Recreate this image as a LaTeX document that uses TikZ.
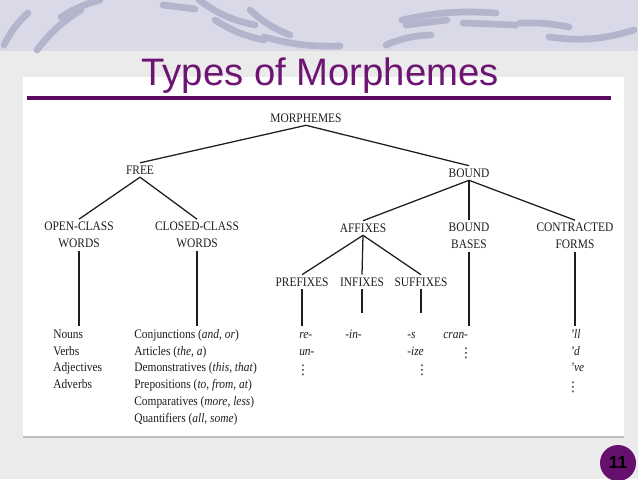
\documentclass[tikz,border=0pt]{standalone}
\usepackage{fontspec}
\setmainfont[FakeStretch=0.88]{Liberation Serif}
\newfontfamily\titlefont{Liberation Sans}
\newfontfamily\symfont{DejaVu Sans}
\definecolor{plum}{HTML}{6E1472}
\definecolor{plumdark}{HTML}{5A0B5E}
\definecolor{badge}{HTML}{66106E}
\definecolor{haze}{HTML}{D9D9E7}
\definecolor{swoosh}{HTML}{B4B4CC}
\definecolor{board}{HTML}{EBEBEB}
\definecolor{ink}{HTML}{1E1E1E}
\tikzset{
  lbl/.style={inner sep=2pt,align=center,text=ink,font=\fontsize{9.75}{12.75}\selectfont},
  lst/.style={inner sep=0pt,align=left,anchor=north west,text=ink,font=\fontsize{9.75}{12.6}\selectfont},
  leaf/.style={lst,font=\fontsize{9.75}{12.6}\selectfont\itshape},
  dts/.style={inner sep=0pt,text=ink,font=\symfont\fontsize{10}{10}\selectfont},
  edge/.style={line width=0.95pt,draw=ink},
  deco/.style={swoosh,line width=5pt,line cap=round},
}

\begin{document}
\begin{tikzpicture}[x=0.75pt,y=-0.75pt]
  \useasboundingbox (0,0) rectangle (638,479);
  % slide background
  \fill[board] (0,0) rectangle (638,479);
  \fill[haze] (0,0) rectangle (638,51);
  \draw[deco] (4,45) to[bend left=10] (28,13);
  \draw[deco] (37,50) to[bend left=10] (81,10);
  \draw[deco] (61,17) to[bend left=8] (100,0);
  \draw[deco] (163,5) -- (195,9);
  \draw[deco] (199,0) to[bend right=12] (255,25);
  \draw[deco] (215,20) to[bend right=10] (264,40);
  \draw[deco] (250,10) to[bend right=10] (290,35);
  \draw[deco] (264,37) to[bend right=8] (340,46);
  \draw[deco] (386,45) to[bend left=10] (431,35);
  \draw[deco] (402,20) to[bend left=8] (496,13);
  \draw[deco] (406,25) -- (447,20);
  \draw[deco] (463,23) -- (516,25);
  \draw[deco] (520,23) to[bend left=6] (569,27);
  \draw[deco] (549,37) to[bend right=12] (634,30);
  \fill[white] (23,77) rectangle (624,436);
  \draw[black!25,line width=1.5pt] (23,437) -- (624,437);

  % title
  \node[font=\titlefont\fontsize{28.7}{30}\selectfont,text=plum,anchor=base] (title) at (320,85) {Types of Morphemes};
  \draw[plumdark,line width=3pt] (27,98) -- (611,98);

  % tree
  \node[lbl] (morph) at (306,118) {MORPHEMES};
  \node[lbl] (free) at (140,170) {FREE};
  \node[lbl] (bound) at (469,173) {BOUND};
  \node[lbl] (open) at (79,235) {OPEN-CLASS\\WORDS};
  \node[lbl] (closed) at (197,235) {CLOSED-CLASS\\WORDS};
  \node[lbl] (affix) at (363,228) {AFFIXES};
  \node[lbl] (bases) at (469,236) {BOUND\\BASES};
  \node[lbl] (contr) at (575,236) {CONTRACTED\\FORMS};
  \node[lbl] (pref) at (302,282) {PREFIXES};
  \node[lbl] (inf) at (362,282) {INFIXES};
  \node[lbl] (suff) at (421,282) {SUFFIXES};
  \draw[edge] (morph.south) -- (free.north);
  \draw[edge] (morph.south) -- (bound.north);
  \draw[edge] (free.south) -- (open.north);
  \draw[edge] (free.south) -- (closed.north);
  \draw[edge] (bound.south) -- (affix.north);
  \draw[edge] (bound.south) -- (bases.north);
  \draw[edge] (bound.south) -- (contr.north);
  \draw[edge] (affix.south) -- (pref.north);
  \draw[edge] (affix.south) -- (inf.north);
  \draw[edge] (affix.south) -- (suff.north);

  % word lists and examples
  \node[lst] (openlist) at (53,326.2) {\strut Nouns\\Verbs\\Adjectives\\Adverbs};
  \node[lst] (closedlist) at (134,326.2) {\strut Conjunctions (\emph{and}, \emph{or})\\Articles (\emph{the}, \emph{a})\\Demonstratives (\emph{this}, \emph{that})\\Prepositions (\emph{to}, \emph{from}, \emph{at})\\Comparatives (\emph{more}, \emph{less})\\Quantifiers (\emph{all}, \emph{some})};
  \node[leaf] (prefleaf) at (299,326.2) {\strut re-\\un-};
  \node[leaf] (infleaf) at (345,326.2) {\strut -in-};
  \node[leaf] (suffleaf) at (407,326.2) {\strut -s\\-ize};
  \node[leaf] (cranleaf) at (443,326.2) {\strut cran-};
  \node[leaf] (contrleaf) at (570,326.2) {\strut 'll\\'d\\'ve};
  \node[dts] (prefdots) at (303,370) {⋮};
  \node[dts] (suffdots) at (422,370) {⋮};
  \node[dts] (crandots) at (466,353) {⋮};
  \node[dts] (contrdots) at (573,387) {⋮};
  \coordinate (infend) at (362,313);
  \coordinate (suffend) at (421,313);
  \draw[edge] (open.south) -- (open.south |- openlist.north);
  \draw[edge] (closed.south) -- (closed.south |- closedlist.north);
  \draw[edge] (pref.south) -- (pref.south |- prefleaf.north);
  \draw[edge] (inf.south) -- (inf.south |- infend);
  \draw[edge] (suff.south) -- (suff.south |- suffend);
  \draw[edge] (bases.south) -- (bases.south |- cranleaf.north);
  \draw[edge] (contr.south) -- (contr.south |- contrleaf.north);

  % page badge
  \node[circle,fill=badge,minimum size=27pt,inner sep=0pt,text=black,font=\titlefont\bfseries\fontsize{13}{13}\selectfont] (page) at (618,463) {11};
\end{tikzpicture}
\end{document}
